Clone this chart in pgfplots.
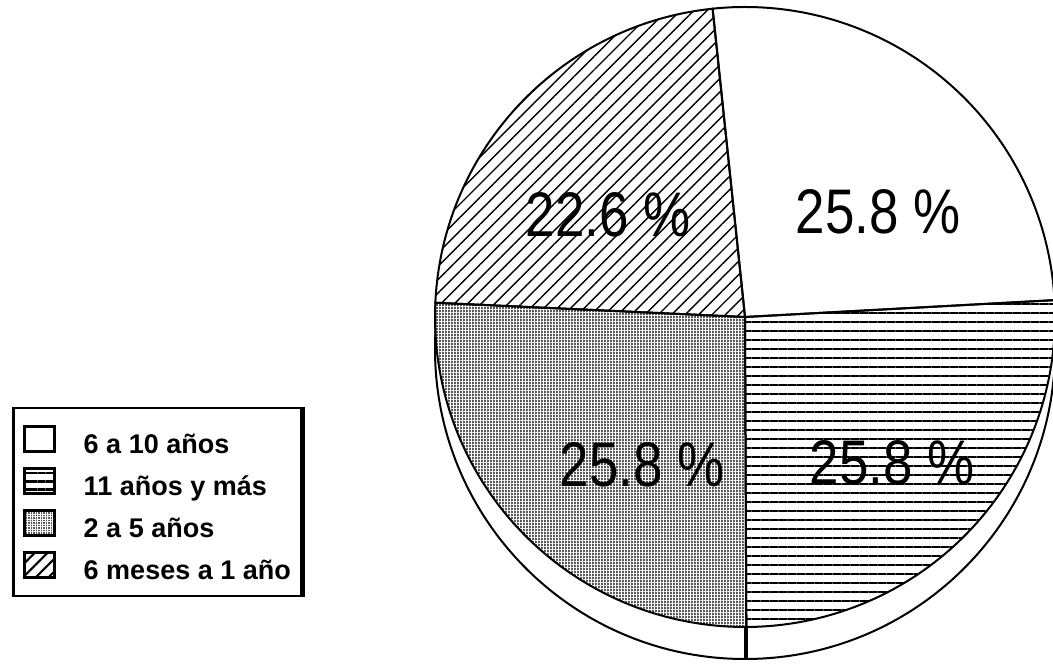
\documentclass[border=0pt]{standalone}
\usepackage{pgfplots}
\pgfplotsset{compat=1.18}
\usepackage{pgfplotstable}
\usetikzlibrary{patterns.meta}
\usepackage{fontspec}
\setmainfont{Liberation Sans}
\newfontfamily\narrowfont[FakeStretch=0.84]{Liberation Sans}

% value = share in %, lx/ly = label position (axis units = px)
\pgfplotstableread{
name value lx ly
w 25.8 878 452
h 25.8 892 201
s 25.8 642 199
d 22.6 608 449
}\piedata

\tikzset{
  hpat/.style={pattern={Lines[angle=0,distance=9pt,line width=2pt]}},
  dpat/.style={pattern={Lines[angle=45,distance=9.5pt,line width=1.4pt]}},
  gpat/.style={pattern={Hatch[angle=0,distance=3pt,line width=1pt]}, pattern color=white},
  hpatS/.style={pattern={Lines[angle=0,distance=8.3pt,line width=2.5pt]}},
  dpatS/.style={pattern={Lines[angle=45,distance=9pt,line width=2pt]}},
  gpatS/.style={pattern={Hatch[angle=0,distance=2.5pt,line width=0.8pt]}, pattern color=white},
}
\newcommand\sector[2]{(axis cs:745,347) -- ++(#1:310pt) arc[start angle=#1,end angle=#2,radius=310pt] -- cycle}
\newcommand\legsq[1]{\draw[black, line width=2.5pt, #1] (0pt,-12.5pt) rectangle (30pt,12.5pt);}

\begin{document}
\begin{tikzpicture}
\pgfplotstablegetelem{0}{value}\of\piedata \let\va\pgfplotsretval
\pgfplotstablegetelem{1}{value}\of\piedata \let\vb\pgfplotsretval
\pgfplotstablegetelem{2}{value}\of\piedata \let\vc\pgfplotsretval
\pgfplotstablegetelem{3}{value}\of\piedata \let\vd\pgfplotsretval
\pgfmathsetmacro\aA{96}
\pgfmathsetmacro\aB{\aA-3.6*\va}
\pgfmathsetmacro\aC{\aB-3.6*\vb}
\pgfmathsetmacro\aD{\aC-3.6*\vc}
\pgfmathsetmacro\aE{\aD-3.6*\vd}
\begin{axis}[
  x=1pt, y=1pt, xmin=0, xmax=1053, ymin=0, ymax=664,
  hide axis, clip=true,
  legend cell align=left,
  legend style={name=leg, at={(axis cs:12,257)}, anchor=north west, draw=black, line width=2.5pt,
    fill=white, font=\bfseries\fontsize{27}{30}\selectfont,
    row sep=10pt, column sep=28pt, inner xsep=10pt, inner ysep=15pt,
    nodes={text height=30pt, text depth=2pt, inner sep=0pt}},
]
\addplot[draw=none, forget plot] coordinates {(0,0) (1053,664)};
\addlegendimage{legend image code/.code={\legsq{fill=white}}}
\addlegendentry{6 a 10 años}
\addlegendimage{legend image code/.code={\legsq{fill=white}\legsq{hpatS}}}
\addlegendentry{11 años y más}
\addlegendimage{legend image code/.code={\legsq{fill=black!65}\legsq{gpatS}}}
\addlegendentry{2 a 5 años}
\addlegendimage{legend image code/.code={\legsq{fill=white}\legsq{dpatS}}}
\addlegendentry{6 meses a 1 año}

% 3D rim
\draw[line width=2pt, fill=white] (axis cs:745,315) circle[radius=310pt];
% slices
\fill[white] \sector{\aA}{\aE};
\fill[hpat] \sector{\aB}{\aC};
\fill[black!65] \sector{\aC}{\aD};
\fill[gpat] \sector{\aC}{\aD};
\fill[dpat] \sector{\aD}{\aE};
\draw[line width=2pt] \sector{\aA}{\aB};
\draw[line width=2pt] \sector{\aB}{\aC};
\draw[line width=2pt] \sector{\aC}{\aD};
\draw[line width=2pt] \sector{\aD}{\aE};
\draw[line width=4pt] (axis cs:745,347) ++(\aC:310pt) -- ++(0,-32pt);

% labels
\pgfplotsinvokeforeach{0,1,2,3}{
  \pgfplotstablegetelem{#1}{value}\of\piedata \let\lv\pgfplotsretval
  \pgfplotstablegetelem{#1}{lx}\of\piedata \let\lx\pgfplotsretval
  \pgfplotstablegetelem{#1}{ly}\of\piedata \let\ly\pgfplotsretval
  \edef\tmp{\noexpand\node[font=\noexpand\narrowfont\noexpand\fontsize{63}{63}\noexpand\selectfont, inner sep=0pt] at (axis cs:\lx,\ly) {\lv~\noexpand\%};}
  \tmp
}
\end{axis}
\draw[line width=4.5pt] ([xshift=1pt]leg.north east) -- ([xshift=1pt]leg.south east);
\end{tikzpicture}
\end{document}
